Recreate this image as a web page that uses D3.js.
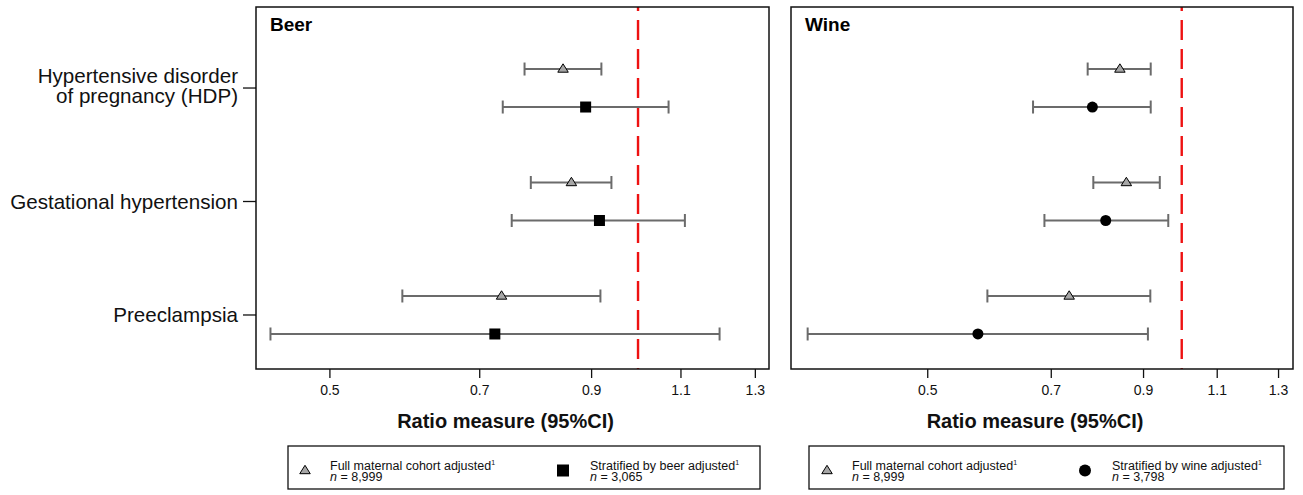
<!DOCTYPE html>
<html>
<head>
<meta charset="utf-8">
<script src="https://cdn.jsdelivr.net/npm/d3@7"></script>
<style>
  html, body { margin: 0; padding: 0; background: #fff; }
  svg { display: block; font-family: "Liberation Sans", Arial, Helvetica, sans-serif; }
</style>
</head>
<body>
<svg id="chart" width="1303" height="495"></svg>
<script>
// ---- Data ----
const categories = ["Hypertensive disorder of pregnancy (HDP)", "Gestational hypertension", "Preeclampsia"];
const categoryLines = [["Hypertensive disorder", "of pregnancy (HDP)"], ["Gestational hypertension"], ["Preeclampsia"]];
const categoryPos = [3, 2, 1];

const beerFullEst = [0.845, 0.861, 0.736];
const beerFullLo  = [0.775, 0.786, 0.589];
const beerFullHi  = [0.921, 0.942, 0.919];
const beerStratEst = [0.889, 0.917, 0.725];
const beerStratLo  = [0.738, 0.753, 0.438];
const beerStratHi  = [1.071, 1.111, 1.201];

const wineFullEst = [0.845, 0.860, 0.736];
const wineFullLo  = [0.774, 0.786, 0.589];
const wineFullHi  = [0.919, 0.942, 0.918];
const wineStratEst = [0.784, 0.813, 0.574];
const wineStratLo  = [0.667, 0.688, 0.361];
const wineStratHi  = [0.919, 0.964, 0.912];

const xTicks = [0.5, 0.7, 0.9, 1.1, 1.3];
const refValue = 1.0;

const panels = [
  { title: "Beer", domain: [0.424, 1.342], range: [256, 769], showY: true,
    full: { est: beerFullEst, lo: beerFullLo, hi: beerFullHi },
    strat: { est: beerStratEst, lo: beerStratLo, hi: beerStratHi },
    stratShape: "square", stratLabel: "Stratified by beer adjusted", stratN: "3,065",
    legend: [288, 760], legTri: 305, legText1: 330, legMark: 563, legText2: 590 },
  { title: "Wine", domain: [0.345, 1.354], range: [791, 1293], showY: false,
    full: { est: wineFullEst, lo: wineFullLo, hi: wineFullHi },
    strat: { est: wineStratEst, lo: wineStratLo, hi: wineStratHi },
    stratShape: "circle", stratLabel: "Stratified by wine adjusted", stratN: "3,798",
    legend: [809, 1284], legTri: 827, legText1: 852, legMark: 1085, legText2: 1112 }
];

const svg = d3.select("#chart");
const y = d3.scaleLinear().domain([0.524, 3.714]).range([369, 7]);
const off = 19;
const whiskerColor = "#6b6b6b";

function triPath(cx, cy, s) {
  const h = s * 0.8;
  return `M${cx},${cy - h * 0.62}L${cx + s / 2},${cy + h * 0.38}L${cx - s / 2},${cy + h * 0.38}Z`;
}

panels.forEach(p => {
  const x = d3.scaleLog().domain(p.domain).range(p.range);
  const g = svg.append("g");
  const [x0, x1] = p.range;

  // reference line
  g.append("line")
    .attr("x1", x(refValue)).attr("x2", x(refValue))
    .attr("y1", y.range()[1]).attr("y2", y.range()[0])
    .attr("stroke", "#ee1111").attr("stroke-width", 2.4)
    .attr("stroke-dasharray", "20 9").attr("stroke-dashoffset", 16);

  // series
  [["full", -off], ["strat", off]].forEach(([key, dy]) => {
    const s = p[key];
    categoryPos.forEach((c, i) => {
      const cy = y(c) + dy;
      const xl = x(s.lo[i]), xh = x(s.hi[i]), xe = x(s.est[i]);
      g.append("line").attr("x1", xl).attr("x2", xh).attr("y1", cy).attr("y2", cy)
        .attr("stroke", whiskerColor).attr("stroke-width", 2);
      [xl, xh].forEach(xx => g.append("line").attr("x1", xx).attr("x2", xx)
        .attr("y1", cy - 6.5).attr("y2", cy + 6.5)
        .attr("stroke", whiskerColor).attr("stroke-width", 2));
      if (key === "full") {
        g.append("path").attr("d", triPath(xe, cy, 10.5))
          .attr("fill", "#a6a6a6").attr("stroke", "#000").attr("stroke-width", 1);
      } else if (p.stratShape === "square") {
        g.append("rect").attr("x", xe - 5.5).attr("y", cy - 5.5)
          .attr("width", 11).attr("height", 11).attr("fill", "#000");
      } else {
        g.append("circle").attr("cx", xe).attr("cy", cy).attr("r", 5.5).attr("fill", "#000");
      }
    });
  });

  // frame
  g.append("rect").attr("x", x0).attr("y", y.range()[1])
    .attr("width", x1 - x0).attr("height", y.range()[0] - y.range()[1])
    .attr("fill", "none").attr("stroke", "#111").attr("stroke-width", 1.5);

  // x axis
  const ax = g.append("g").attr("transform", `translate(0,${y.range()[0]})`)
    .call(d3.axisBottom(x).tickValues(xTicks).tickFormat(d3.format(".1f")).tickSize(9).tickPadding(7));
  ax.select(".domain").remove();
  ax.selectAll(".tick line").attr("stroke", "#111").attr("stroke-width", 1.3);
  ax.selectAll(".tick text").attr("font-size", 14).attr("fill", "#111")
    .attr("font-family", "\"Liberation Sans\", Arial, sans-serif");

  g.append("text").attr("x", (x0 + x1) / 2 - 7).attr("y", 428)
    .attr("text-anchor", "middle").attr("font-size", 20).attr("font-weight", "bold")
    .attr("fill", "#111").text("Ratio measure (95%CI)");

  // panel title
  g.append("text").attr("x", x0 + 14).attr("y", 31)
    .attr("font-size", 19).attr("font-weight", "bold").attr("fill", "#000").text(p.title);

  // y axis
  if (p.showY) {
    categoryPos.forEach((c, i) => {
      const cy = y(c);
      g.append("line").attr("x1", x0 - 13).attr("x2", x0).attr("y1", cy).attr("y2", cy)
        .attr("stroke", "#111").attr("stroke-width", 1.3);
      const lines = categoryLines[i];
      const t = g.append("text").attr("text-anchor", "end").attr("font-size", 20.6).attr("fill", "#111");
      const startDy = lines.length === 1 ? 7 : -5.3;
      lines.forEach((ln, j) => {
        t.append("tspan").attr("x", x0 - 18).attr("y", cy + startDy + j * 20.6).text(ln);
      });
    });
  }

  // legend
  const [lx0, lx1] = p.legend;
  const lg = svg.append("g");
  lg.append("rect").attr("x", lx0).attr("y", 446).attr("width", lx1 - lx0).attr("height", 43)
    .attr("fill", "#fff").attr("stroke", "#111").attr("stroke-width", 1.3);
  lg.append("path").attr("d", triPath(p.legTri, 470.5, 10.5))
    .attr("fill", "#a6a6a6").attr("stroke", "#000").attr("stroke-width", 1);
  if (p.stratShape === "square") {
    lg.append("rect").attr("x", p.legMark - 6).attr("y", 464.5).attr("width", 12).attr("height", 12).attr("fill", "#000");
  } else {
    lg.append("circle").attr("cx", p.legMark).attr("cy", 470.5).attr("r", 6).attr("fill", "#000");
  }
  const items = [[p.legText1, "Full maternal cohort adjusted", "8,999"], [p.legText2, p.stratLabel, p.stratN]];
  items.forEach(([tx, label, n]) => {
    const t1 = lg.append("text").attr("x", tx).attr("y", 469.5).attr("font-size", 12.5).attr("fill", "#111");
    t1.append("tspan").text(label);
    t1.append("tspan").attr("font-size", 7).attr("dy", -4.5).text("1");
    const t2 = lg.append("text").attr("x", tx).attr("y", 481).attr("font-size", 12.5).attr("fill", "#111");
    t2.append("tspan").attr("font-style", "italic").text("n");
    t2.append("tspan").text(" = " + n);
  });
});
</script>
</body>
</html>
